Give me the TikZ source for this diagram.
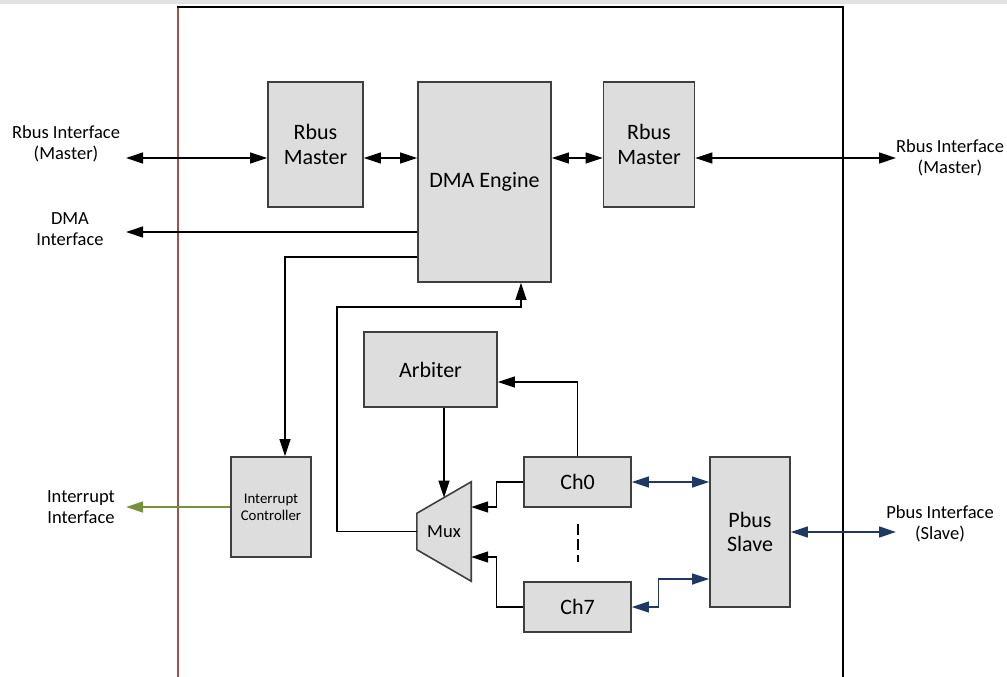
\documentclass[tikz,border=0pt]{standalone}
\usepackage{fontspec}
\setmainfont{Carlito}
\usetikzlibrary{arrows.meta}
\definecolor{boxgray}{HTML}{DDDDDD}
\definecolor{edgegray}{HTML}{3F3F3F}
\definecolor{brownred}{HTML}{A0524B}
\definecolor{olivegreen}{HTML}{76923C}
\definecolor{navyblue}{HTML}{1F3864}
\def\boxfont{\fontsize{22}{24.5}\selectfont}
\def\lblfont{\fontsize{18.5}{21}\selectfont}
\def\smlfont{\fontsize{14.8}{16.7}\selectfont}

\begin{document}
\begin{tikzpicture}[x=1pt,y=-1pt,>={Triangle[length=17pt,width=11pt]},
    box/.style={draw=edgegray,fill=boxgray,line width=1.6pt,inner sep=0pt,align=center,font=\boxfont},
    lbl/.style={align=center,font=\lblfont,inner sep=0pt},
    wire/.style={line width=1.3pt}]
\useasboundingbox (0,0) rectangle (1007,677);
\fill[gray!22] (0,0) rectangle (1007,4);
% frame
\draw[brownred,line width=1.6pt] (178,7) -- (178,677);
\draw[line width=1.6pt] (177.2,7) -- (843,7) -- (843,677);
%
       \node [box,minimum width=95,minimum height=125] at (315.5,144.5) (rbus m1) {Rbus\\Master};
          \node [box,minimum width=133,minimum height=200] at (484.5,182) (dma eng) {DMA Engine};
             \node [box,minimum width=91,minimum height=125] at (649,144.5) (rbus m2) {Rbus\\Master};
              \node [box,minimum width=80,minimum height=100,font=\smlfont] at (271,507) (int ctrl) {Interrupt\\Controller};
               \node [box,minimum width=133,minimum height=75] at (430.5,369.5) (arb) {Arbiter};
                \node [box,minimum width=107,minimum height=50] at (577.5,482) (ch0) {Ch0};
                \node [box,minimum width=107,minimum height=50] at (577.5,607) (ch7) {Ch7};
                  \node [box,minimum width=80,minimum height=150] at (750,532) (pbus s) {Pbus\\Slave};
                   \node [minimum width=54,minimum height=99,inner sep=0pt] at (444,531.5) (mux) {};
\draw[box] (mux.north east) -- (mux.south east) -- ([yshift=31.5pt]mux.south west)
   -- ([yshift=-31.5pt]mux.north west) -- cycle;
\node [lbl,font=\lblfont] at (mux.center) {Mux};
%
\node [lbl] at (66,143.5) (rbus if1) {Rbus Interface\\(Master)};
\node [lbl] at (70,229.5) (dma if) {DMA\\Interface};
\node [lbl] at (81,507.5) (int if) {Interrupt\\Interface};
\node [lbl] at (950,157.5) (rbus if2) {Rbus Interface\\(Master)};
\node [lbl] at (940,524) (pbus if) {Pbus Interface\\(Slave)};
\coordinate (rbus tip1) at (126,158);
\coordinate (dma tip) at (126,232);
\coordinate (int tip) at (126,507);
\coordinate (rbus tip2) at (896,158);
\coordinate (pbus tip) at (896,532);
\coordinate (fbk) at (337,307);
%
\path[<->,wire] (rbus tip1) edge (rbus m1.west |- rbus tip1);
\path[<->,wire] (rbus m1.east |- rbus tip1) edge (dma eng.west |- rbus tip1);
\path[<->,wire] (dma eng.east |- rbus tip2) edge (rbus m2.west |- rbus tip2);
\path[<->,wire] (rbus m2.east |- rbus tip2) edge (rbus tip2);
\path[->,wire] (dma eng.west |- dma tip) edge (dma tip);
\draw[->,wire] (dma eng.west |- 0,257) -| ([xshift=14pt]int ctrl.north);
\path[->,wire,olivegreen] (int ctrl.west) edge (int tip);
\draw[->,wire] (mux.west) -| (fbk) -| ([xshift=36.5pt]dma eng.south);
\draw[->,wire] (arb.south -| mux.north) -- ([yshift=-15.75pt]mux.north);
\draw[->,wire] (ch0.north) |- ([yshift=-12.5pt]arb.east);
\draw[->,wire] (ch0.west) -- ++(-26.5,0) |- ([yshift=24.5pt]mux.east);
\draw[->,wire] (ch7.west) -- ++(-26.5,0) |- ([yshift=-25.5pt]mux.east);
\draw[dash pattern=on 11pt off 4.5pt,line width=2pt] ([xshift=0.5pt,yshift=-16pt]ch0.south) -- ([xshift=0.5pt,yshift=19pt]ch7.north);
\path[<->,wire,navyblue] (ch0.east) edge (pbus s.west |- ch0.east);
\draw[<->,wire,navyblue] (ch7.east) -- ++(27,0) |- ([yshift=-47pt]pbus s.west);
\path[<->,wire,navyblue] (pbus s.east) edge (pbus tip);

\end{tikzpicture}
\end{document}
